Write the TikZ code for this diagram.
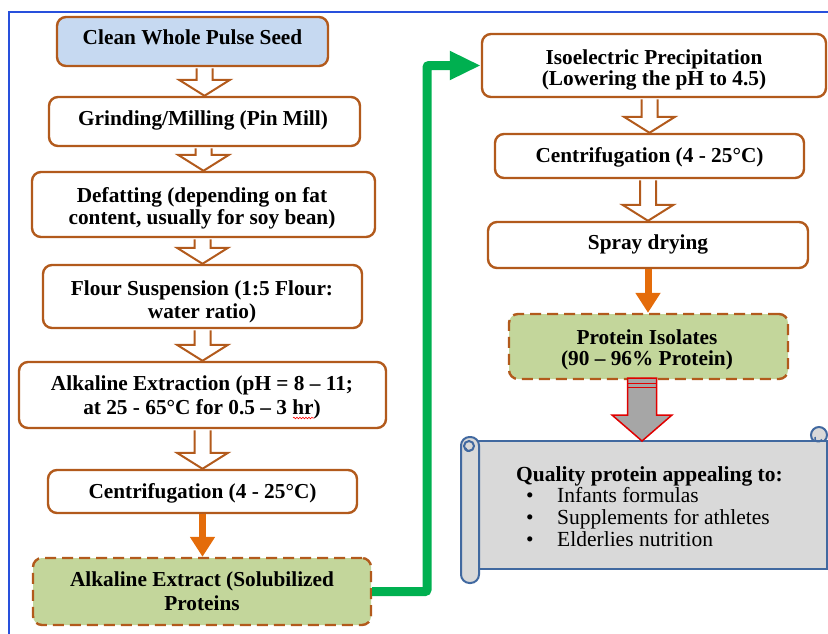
\documentclass[tikz,border=0pt]{standalone}
\usepackage{fontspec}
\setmainfont{Liberation Serif}
\usetikzlibrary{arrows.meta,calc,decorations.pathmorphing}
\definecolor{brn}{RGB}{178,90,28}
\definecolor{bluefill}{RGB}{198,217,241}
\definecolor{grnfill}{RGB}{195,214,155}
\definecolor{orng}{RGB}{228,108,10}
\definecolor{grnline}{RGB}{0,176,80}
\definecolor{frameblue}{RGB}{40,80,220}
\definecolor{scrollblue}{RGB}{65,105,160}
\definecolor{scrollgray}{RGB}{217,217,217}
\definecolor{arrgray}{RGB}{166,166,166}
\definecolor{arrred}{RGB}{224,0,0}
\newcommand\hollowarrow[2]{%
  \draw[hollow] let \p1=(#1.south), \p2=(#2.north) in
    (\x2-8pt,\y1-1.2pt) -- (\x2-8pt,\y2+16pt) -- (\x2-25.5pt,\y2+16pt) -- (\x2,\y2)
    -- (\x2+25.5pt,\y2+16pt) -- (\x2+8pt,\y2+16pt) -- (\x2+8pt,\y1-1.2pt);}
% two centred lines, baseline = first line, line distance #1
\newcommand\twolines[3]{{\fontsize{21.3}{#1}\selectfont\begin{tabular}[t]{@{}c@{}}#2\\#3\end{tabular}}}
\begin{document}
\begin{tikzpicture}[x=1pt,y=-1pt,
  stepbox/.style={draw=brn, line width=2.4pt, rounded corners=9pt, fill=white, inner sep=0pt},
  resultbox/.style={stepbox, fill=grnfill, dash pattern=on 11pt off 6pt},
  boxtext/.style={anchor=base, inner sep=0pt, font=\bfseries\fontsize{21.3}{23}\selectfont},
  hollow/.style={draw=brn, line width=2pt, fill=white, line join=miter},
  orangearr/.style={draw=orng, line width=7pt, -{Triangle[width=24pt,length=20pt]}},
  greenarr/.style={draw=grnline, line width=9pt, rounded corners=2pt, -{Triangle[width=27pt,length=31pt]}},
  grayarr/.style={draw=arrred, line width=1.5pt, fill=arrgray, line join=miter},
  scroll/.style={draw=scrollblue, line width=2pt, fill=scrollgray},
  scrolltext/.style={anchor=base west, inner sep=0pt, font=\fontsize{21.5}{23}\selectfont}]
\clip (0,0) rectangle (828,633);
\useasboundingbox (0,0) rectangle (828,633);
% frame
\draw[frameblue, line width=2.5pt] (9,12) rectangle (850,660);
% left column boxes
\node[stepbox, fill=bluefill, minimum width=271pt, minimum height=49pt] (b1) at (192.5,41.5) {};
\node[stepbox, minimum width=311pt, minimum height=49pt] (b2) at (204.5,121.5) {};
\node[stepbox, minimum width=343pt, minimum height=65pt] (b3) at (203.5,204.5) {};
\node[stepbox, minimum width=319pt, minimum height=63pt] (b4) at (202.5,296.5) {};
\node[stepbox, minimum width=367pt, minimum height=66pt] (b5) at (202.5,395) {};
\node[stepbox, minimum width=309pt, minimum height=43pt] (b6) at (202.5,491.5) {};
\node[resultbox, minimum width=338pt, minimum height=67pt] (b7) at (202,591.5) {};
% right column boxes
\node[stepbox, minimum width=344pt, minimum height=63pt] (b8) at (654,65.5) {};
\node[stepbox, minimum width=309pt, minimum height=44pt] (b9) at (649.5,156) {};
\node[stepbox, minimum width=320pt, minimum height=46pt] (b10) at (648,245) {};
\node[resultbox, minimum width=279pt, minimum height=65pt] (b11) at (648.5,346.5) {};
% box texts
\node[boxtext] (t1) at (192.5,44.5) {Clean Whole Pulse Seed};
\node[boxtext] (t2) at (203,125.5) {Grinding/Milling (Pin Mill)};
\node[boxtext] (t3) at (202,202) {\twolines{22}{Defatting (depending on fat}{content, usually for soy bean)}};
\node[boxtext] (t4) at (202,295) {\twolines{23}{Flour Suspension (1:5 Flour:}{water ratio)}};
\node[boxtext] (t5) at (202,390.5) {\twolines{24}{Alkaline Extraction (pH = 8 – 11;}{at 25 - 65°C for 0.5 – 3 hr)}};
\node[boxtext] (t6) at (202.5,498) {Centrifugation (4 - 25°C)};
\node[boxtext] (t7) at (202,586.5) {\twolines{24}{Alkaline Extract (Solubilized}{Proteins}};
\node[boxtext] (t8) at (654,64.5) {\twolines{20.5}{Isoelectric Precipitation}{(Lowering the pH to 4.5)}};
\node[boxtext] (t9) at (649.5,162.5) {Centrifugation (4 - 25°C)};
\node[boxtext] (t10) at (648,249.5) {Spray drying};
\node[boxtext] (t11) at (647,344.5) {\twolines{21}{Protein Isolates}{(90 – 96\% Protein)}};
% spell-check wave under "hr"
\draw[red, line width=0.6pt, decorate, decoration={snake, amplitude=0.8pt, segment length=3pt}] (293,418) -- (314,418);
% hollow arrows
\hollowarrow{b1}{b2}
\hollowarrow{b2}{b3}
\hollowarrow{b3}{b4}
\hollowarrow{b4}{b5}
\hollowarrow{b5}{b6}
\hollowarrow{b8}{b9}
\hollowarrow{b9}{b10}
% orange arrows
\draw[orangearr] (b6.south) -- (b6.south |- b7.north);
\draw[orangearr] (b10.south) -- (b10.south |- b11.north);
% green connector
\coordinate (gc) at (427,65.5);
\draw[greenarr] (b7.east) -| (gc) -- (b8.west);
% scroll
\coordinate (scrolltop) at (642,441);
\draw[scroll] (819,435) circle[radius=8];
\draw[scroll] (470,441) rectangle (827,569);
\draw[scrollblue, line width=1.5pt] (815,437) arc[start angle=200, end angle=20, radius=3.6];
\draw[scroll, rounded corners=8.5pt] (461,437) rectangle (479,583);
\draw[scroll] (469,446) circle[radius=5];
\draw[scrollblue, line width=1.5pt] (466,448) arc[start angle=200, end angle=20, radius=2.5];
% gray arrow
\draw[grayarr] let \p1=(b11.south), \p2=(scrolltop) in
  (\x2-14.5pt,\y1+2pt) -- (\x2-14.5pt,\y2+26pt) -- (\x2-30pt,\y2+26pt) -- (\x2,\y2)
  -- (\x2+30pt,\y2+26pt) -- (\x2+14.5pt,\y2+26pt) -- (\x2+14.5pt,\y1+2pt) -- cycle;
\draw[arrred, line width=1.2pt] let \p1=(b11.south), \p2=(scrolltop) in
  (\x2-14.5pt,\y1-3pt) -- (\x2+14.5pt,\y1-3pt)
  (\x2-14.5pt,\y1-7pt) -- (\x2+14.5pt,\y1-7pt);
% scroll text
\node[scrolltext, font=\bfseries\fontsize{21.5}{23}\selectfont] (q) at (516,481) {Quality protein appealing to:};
\node[scrolltext, anchor=base] (d1) at (530,502) {\textbullet};
\node[scrolltext, anchor=base] (d2) at (530,524) {\textbullet};
\node[scrolltext, anchor=base] (d3) at (530,546) {\textbullet};
\node[scrolltext] (i1) at (557,502) {Infants formulas};
\node[scrolltext] (i2) at (557,524) {Supplements for athletes};
\node[scrolltext] (i3) at (557,546) {Elderlies nutrition};
\end{tikzpicture}
\end{document}
